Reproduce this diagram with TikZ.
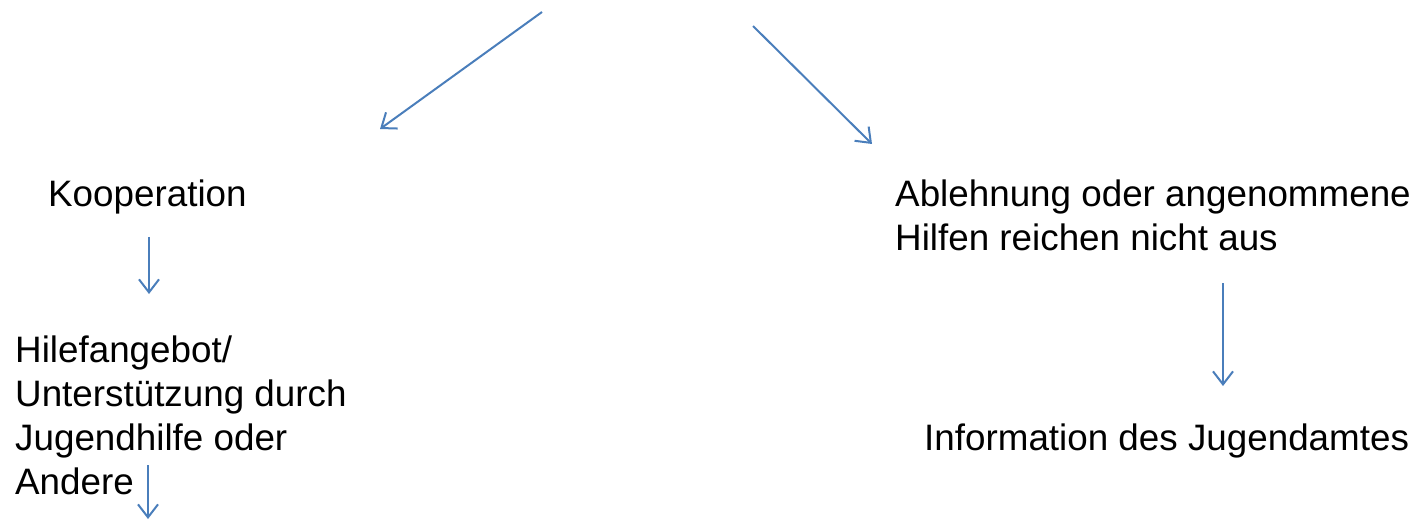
\documentclass[tikz,border=0pt]{standalone}
\usepackage{fontspec}
\setmainfont{Liberation Sans}
\usetikzlibrary{arrows.meta}
\definecolor{linkblue}{HTML}{4A7EBB}
\begin{document}
\begin{tikzpicture}[x=1pt,y=-1pt,
  label/.style={inner sep=0pt,anchor=base west,align=left,
    font=\fontsize{36.8}{44}\selectfont},
  link/.style={draw=linkblue,line width=2pt,
    -{Straight Barb[length=13pt,width=20pt,line width=2pt]}}]
  \useasboundingbox (0,0) rectangle (1420,521);
  % labels (anchored at the baseline of their last line)
  \node[label] (koop) at (48,207) {Kooperation};
  \node[label] (ablehn) at (895,251) {Ablehnung oder angenommene\\Hilfen reichen nicht aus};
  \node[label] (hilfe) at (15,494) {Hilefangebot/\\Unterstützung durch\\Jugendhilfe oder\\Andere};
  \node[label] (info) at (924,450) {Information des Jugendamtes};
  % arrow end points
  \coordinate (top1) at (542,12);
  \coordinate (end1) at (380,129);
  \coordinate (top2) at (753,26);
  \coordinate (end2) at (872,144);
  \coordinate (k1) at (149,237);
  \coordinate (k2) at (149,294);
  \coordinate (h1) at (148,465);
  \coordinate (h2) at (148,519);
  \coordinate (a1) at (1223,283);
  \coordinate (a2) at (1223,386);
  % arrows
  \draw[link] (top1) -- (end1);
  \draw[link] (top2) -- (end2);
  \draw[link] (k1) -- (k2);
  \draw[link] (h1) -- (h2);
  \draw[link] (a1) -- (a2);
\end{tikzpicture}
\end{document}
